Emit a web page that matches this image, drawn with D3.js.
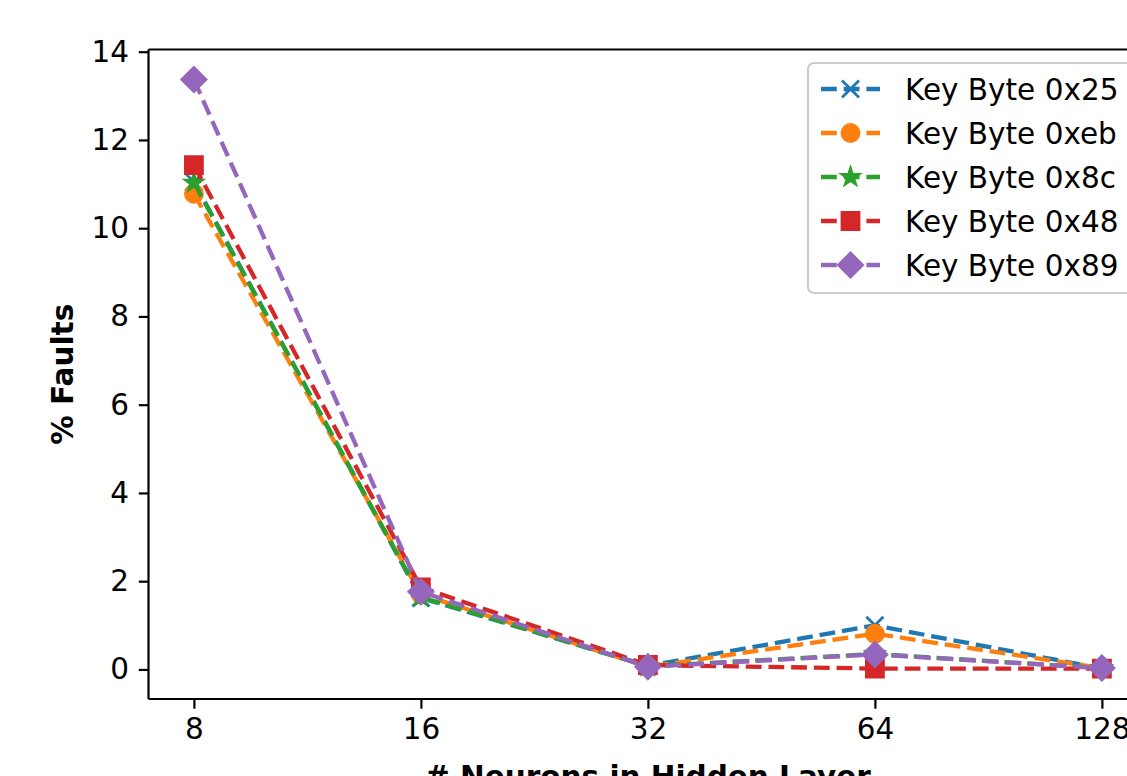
<!DOCTYPE html>
<html>
<head>
<meta charset="utf-8">
<script src="https://cdn.jsdelivr.net/npm/d3@7"></script>
<style>
  html, body { margin: 0; padding: 0; background: #fff; overflow: hidden; }
  svg { display: block; font-family: "DejaVu Sans", sans-serif; }
</style>
</head>
<body>
<svg id="chart" width="1127" height="776"></svg>
<script>
// Hidden-layer sizes (categorical x axis)
const neurons = ["8", "16", "32", "64", "128"];

// % faults per key byte
const keyByte0x25 = [11.05, 1.62, 0.08, 1.00, 0.02];
const keyByte0xeb = [10.78, 1.70, 0.06, 0.81, 0.03];
const keyByte0x8c = [11.03, 1.64, 0.07, 0.35, 0.03];
const keyByte0x48 = [11.43, 1.86, 0.10, 0.02, 0.02];
const keyByte0x89 = [13.37, 1.76, 0.06, 0.34, 0.03];

const yTicks = [0, 2, 4, 6, 8, 10, 12, 14];

const series = [
  { label: "Key Byte 0x25", values: keyByte0x25, color: "#1f77b4", marker: "x" },
  { label: "Key Byte 0xeb", values: keyByte0xeb, color: "#ff7f0e", marker: "o" },
  { label: "Key Byte 0x8c", values: keyByte0x8c, color: "#2ca02c", marker: "*" },
  { label: "Key Byte 0x48", values: keyByte0x48, color: "#d62728", marker: "s" },
  { label: "Key Byte 0x89", values: keyByte0x89, color: "#9467bd", marker: "D" }
];

const plot = { left: 148.5, top: 49.5, bottom: 699 };
const step = 227;
plot.right = plot.left + 4.4 * step;

const svg = d3.select("#chart");

const x = d3.scaleLinear().domain([-0.2, 4.2]).range([plot.left, plot.right]);
const y = d3.scaleLinear().domain([-0.67, 14.05]).range([plot.bottom, plot.top]);

const fontPx = 29.5;
const lw = 4.3;           // line width
const dash = "15.8,6.9";  // dashed line pattern
const ms = 17;            // marker size
const mew = 2.8;          // marker edge width

// marker outlines centered at the origin
function markerPath(type) {
  const h = ms / 2;
  if (type === "o") return `M${h},0A${h},${h} 0 1,1 ${-h},0A${h},${h} 0 1,1 ${h},0Z`;
  if (type === "s") return `M${-h},${-h}H${h}V${h}H${-h}Z`;
  if (type === "D") {
    const d = ms * Math.SQRT2 / 2;
    return `M0,${-d}L${d},0L0,${d}L${-d},0Z`;
  }
  if (type === "*") {
    const ro = h, ri = h * 0.381966;
    let p = "";
    for (let i = 0; i < 10; i++) {
      const r = i % 2 === 0 ? ro : ri;
      const a = -Math.PI / 2 + i * Math.PI / 5;
      p += (i === 0 ? "M" : "L") + (r * Math.cos(a)).toFixed(2) + "," + (r * Math.sin(a)).toFixed(2);
    }
    return p + "Z";
  }
  if (type === "x") return `M${-h},${-h}L${h},${h}M${-h},${h}L${h},${-h}`;
  return "";
}
function drawMarker(g, type, color, cx, cy) {
  const m = g.append("path")
    .attr("d", markerPath(type))
    .attr("transform", `translate(${cx},${cy})`)
    .attr("stroke", color)
    .attr("stroke-width", mew)
    .attr("stroke-linejoin", "miter");
  m.attr("fill", type === "x" ? "none" : color);
}

const dataLayer = svg.append("g");
const line = d3.line().x((d, i) => x(i)).y(d => y(d));

series.forEach(s => {
  const g = dataLayer.append("g");
  g.append("path")
    .attr("d", line(s.values))
    .attr("fill", "none")
    .attr("stroke", s.color)
    .attr("stroke-width", lw)
    .attr("stroke-dasharray", dash)
    .attr("stroke-linecap", "butt");
  s.values.forEach((v, i) => drawMarker(g, s.marker, s.color, x(i), y(v)));
});

// axes
const xAxis = d3.axisBottom(x)
  .tickValues(d3.range(neurons.length))
  .tickFormat(i => neurons[i])
  .tickSizeOuter(0)
  .tickSize(9.7)
  .tickPadding(9.2);
const gx = svg.append("g").attr("transform", `translate(0,${plot.bottom})`).call(xAxis);
gx.select(".domain").remove();
gx.append("line")
  .attr("x1", plot.left).attr("x2", plot.right)
  .attr("stroke", "#000").attr("stroke-width", 2.2);

const yAxis = d3.axisLeft(y)
  .tickValues(yTicks)
  .tickFormat(d3.format("d"))
  .tickSizeOuter(0)
  .tickSize(9.7)
  .tickPadding(9.7);
const gy = svg.append("g").attr("transform", `translate(${plot.left},0)`).call(yAxis);
gy.select(".domain").remove();
gy.append("line")
  .attr("y1", plot.top).attr("y2", plot.bottom)
  .attr("stroke", "#000").attr("stroke-width", 2.2);

// top spine
svg.append("line")
  .attr("x1", plot.left).attr("x2", plot.right)
  .attr("y1", plot.top).attr("y2", plot.top)
  .attr("stroke", "#000").attr("stroke-width", 2.2);

[gx, gy].forEach(g => {
  g.selectAll(".tick line").attr("stroke", "#000").attr("stroke-width", 2.2);
  g.selectAll(".tick text")
    .attr("fill", "#000")
    .style("font-family", "DejaVu Sans")
    .style("font-size", fontPx + "px");
});

// axis titles
svg.append("text")
  .attr("x", (plot.left + plot.right) / 2)
  .attr("y", 787)
  .attr("text-anchor", "middle")
  .style("font-weight", "bold")
  .style("font-size", fontPx + "px")
  .text("# Neurons in Hidden Layer");

svg.append("text")
  .attr("transform", `translate(73,${(plot.top + plot.bottom) / 2}) rotate(-90)`)
  .attr("text-anchor", "middle")
  .style("font-weight", "bold")
  .style("font-size", fontPx + "px")
  .text("% Faults");

// legend
const lg = svg.append("g");
const legX = 808, legY = 63, legW = 330, legH = 230;
lg.append("rect")
  .attr("x", legX).attr("y", legY)
  .attr("width", legW).attr("height", legH)
  .attr("rx", 6).attr("ry", 6)
  .attr("fill", "rgba(255,255,255,0.8)")
  .attr("stroke", "#cccccc")
  .attr("stroke-width", 2.2);

series.forEach((s, i) => {
  const cy = 89 + i * 44;
  const row = lg.append("g");
  row.append("line")
    .attr("x1", 821).attr("x2", 880)
    .attr("y1", cy).attr("y2", cy)
    .attr("stroke", s.color)
    .attr("stroke-width", lw)
    .attr("stroke-dasharray", dash);
  drawMarker(row, s.marker, s.color, 850.5, cy);
  row.append("text")
    .attr("x", 905)
    .attr("y", cy)
    .attr("dy", "0.36em")
    .style("font-size", fontPx + "px")
    .attr("fill", "#000")
    .text(s.label);
});
</script>
</body>
</html>
